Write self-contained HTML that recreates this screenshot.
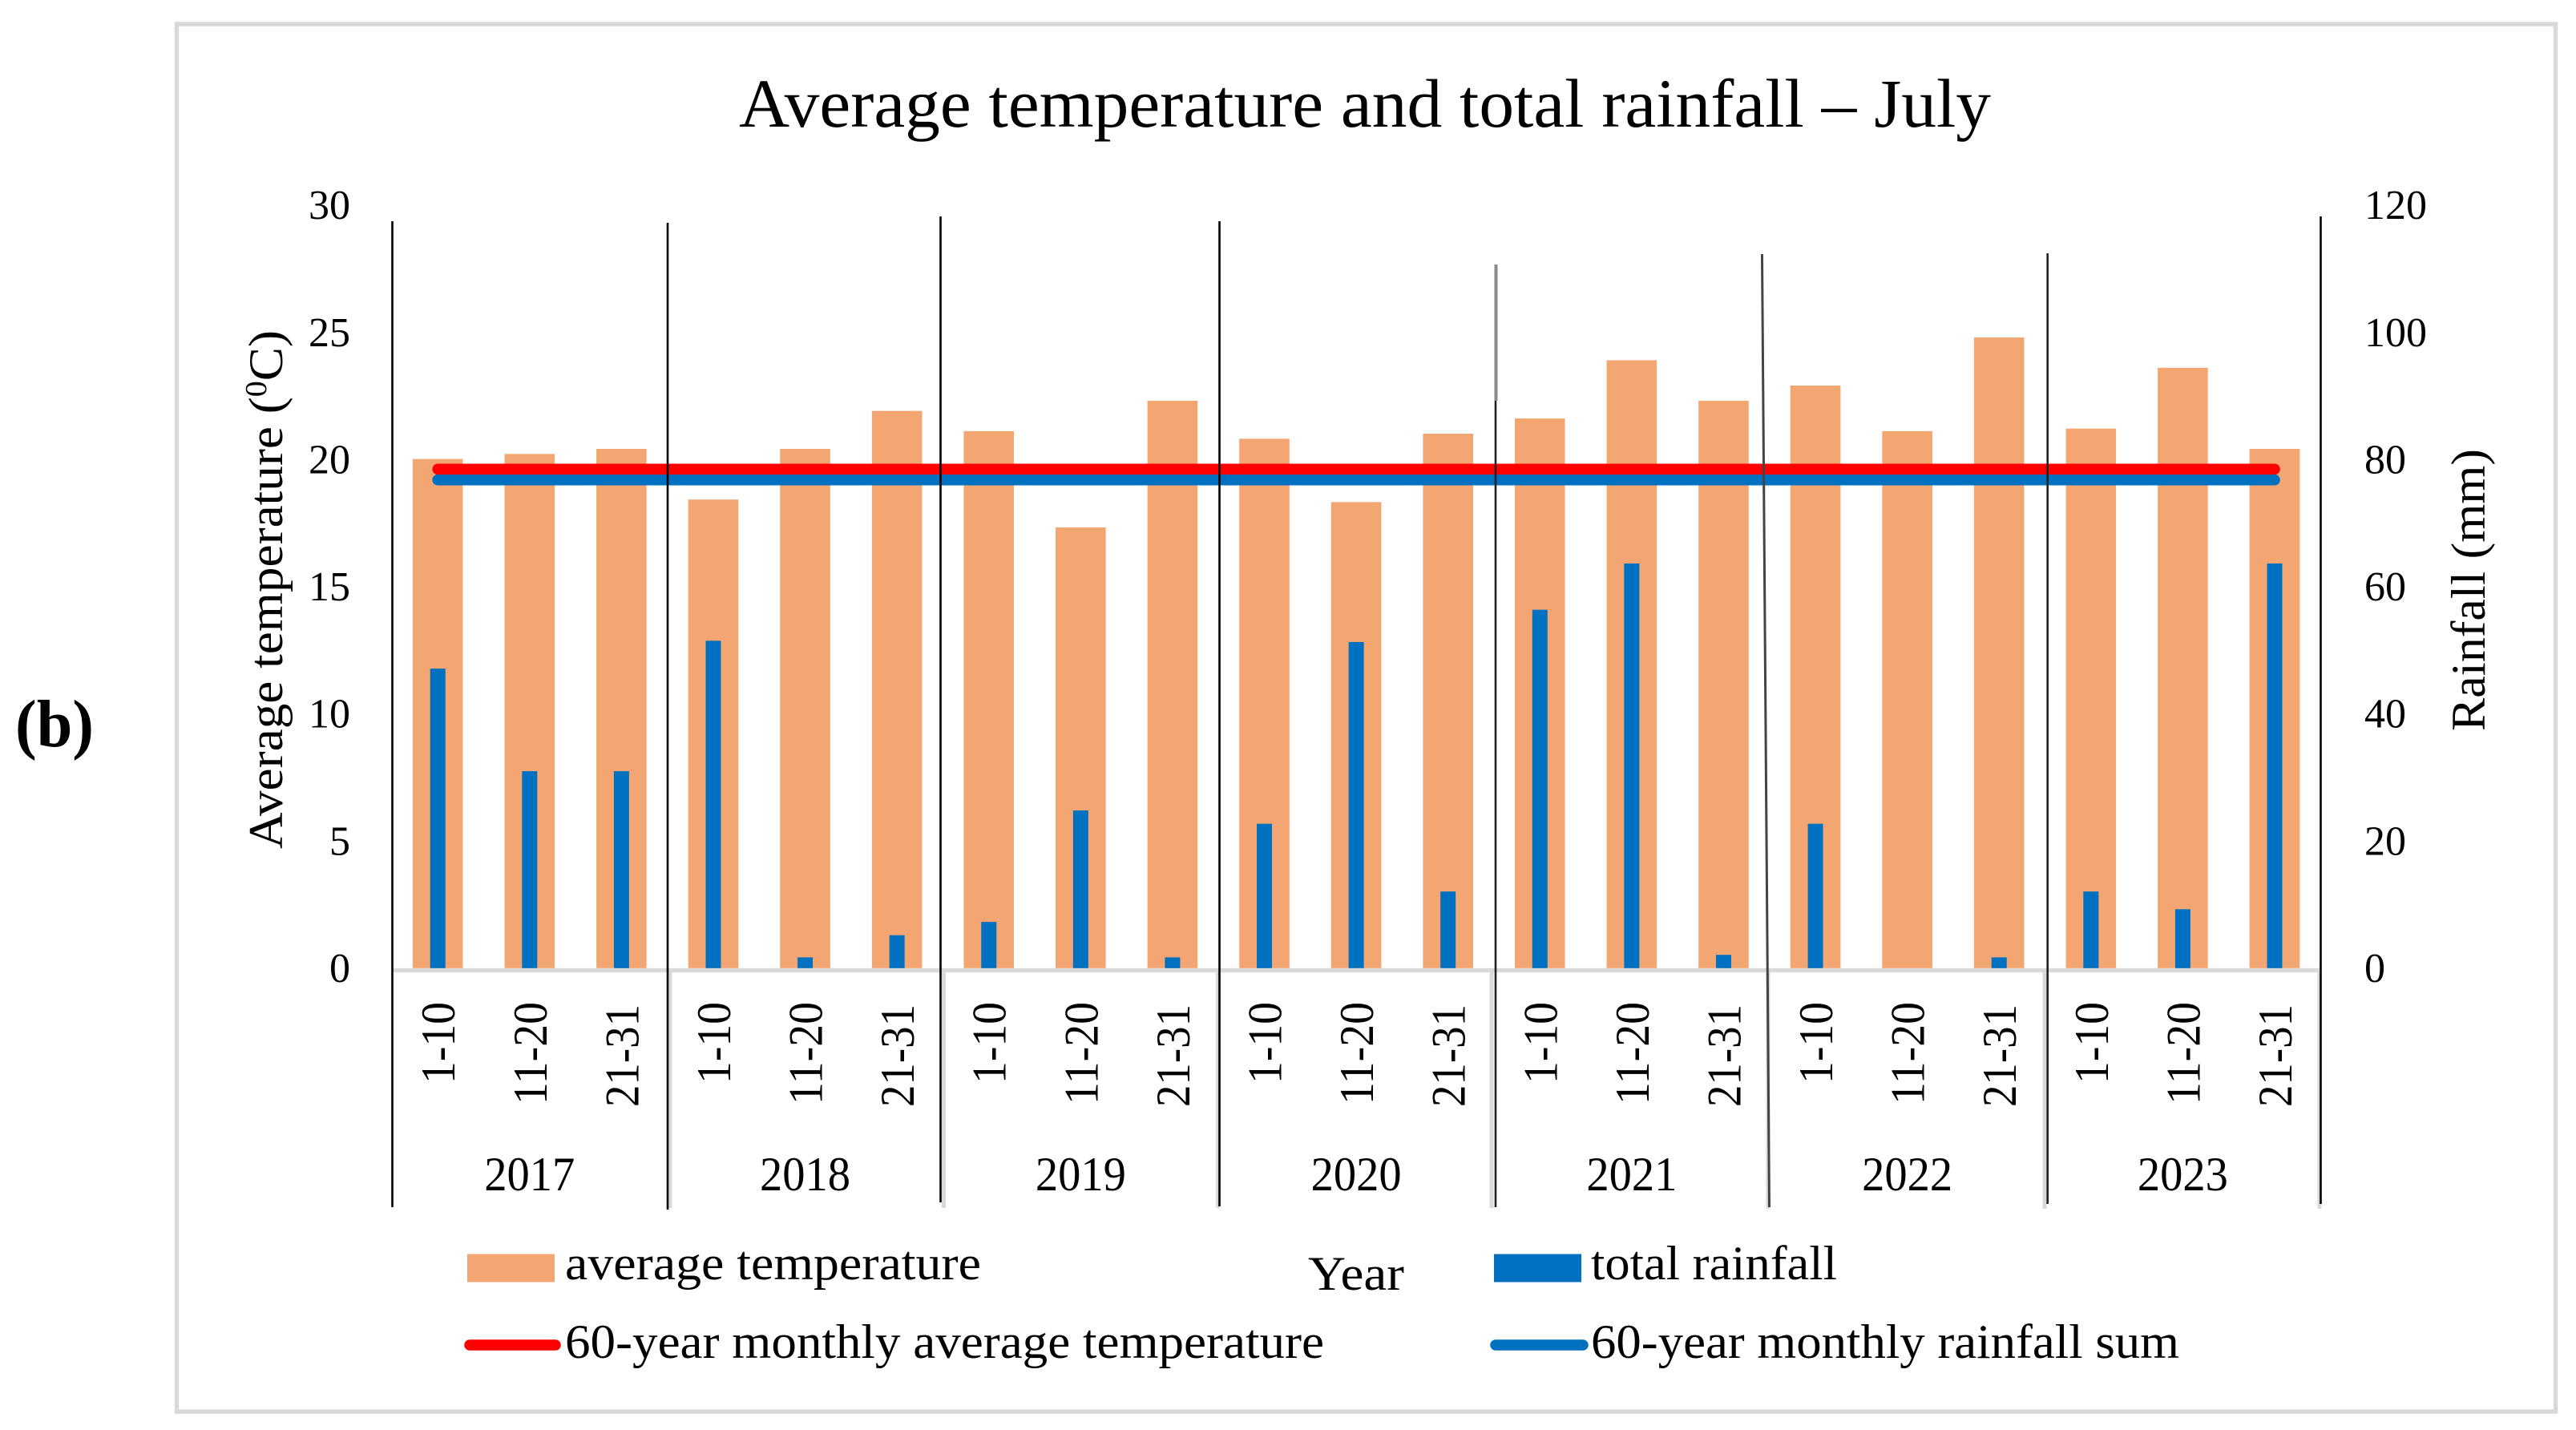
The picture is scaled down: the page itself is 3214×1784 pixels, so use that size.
<!DOCTYPE html>
<html>
<head>
<meta charset="utf-8">
<title>Average temperature and total rainfall - July</title>
<style>
html,body{margin:0;padding:0;background:#fff;}
svg{display:block;}
text{font-family:"Liberation Serif",serif;fill:#000;}
</style>
</head>
<body>
<svg id="chart" xmlns="http://www.w3.org/2000/svg" width="3214" height="1784" viewBox="0 0 3214 1784">
  <rect x="0" y="0" width="3214" height="1784" fill="#ffffff"/>
  <rect x="220.5" y="30" width="2968" height="1731" fill="none" stroke="#d9d9d9" stroke-width="5.5"/>
  <text x="19" y="931" font-size="84" font-weight="bold" textLength="98" lengthAdjust="spacingAndGlyphs">(b)</text>
  <text x="922" y="158" font-size="86" textLength="1562" lengthAdjust="spacingAndGlyphs">Average temperature and total rainfall – July</text>
  <text transform="translate(352 1059) rotate(-90)" x="0" y="0" font-size="60" textLength="647" lengthAdjust="spacingAndGlyphs">Average temperature (<tspan dy="-20" font-size="38">0</tspan><tspan dy="20">C)</tspan></text>
  <text transform="translate(3100 912) rotate(-90)" x="0" y="0" font-size="60" textLength="352" lengthAdjust="spacingAndGlyphs">Rainfall (mm)</text>
  <g id="gray-ticks" stroke="#d9d9d9" stroke-width="5">
    <line x1="836" y1="1213" x2="836" y2="1507"/>
    <line x1="1177.5" y1="1213" x2="1177.5" y2="1507"/>
    <line x1="1519.5" y1="1213" x2="1519.5" y2="1507"/>
    <line x1="1861" y1="1213" x2="1861" y2="1507"/>
    <line x1="2206" y1="1213" x2="2206" y2="1508"/>
    <line x1="2551" y1="1213" x2="2551" y2="1508"/>
    <line x1="2894" y1="1213" x2="2894" y2="1508"/>
  </g>
  <rect x="489" y="1207.8" width="2405" height="5.4" fill="#d9d9d9"/>
  <g id="temp-bars"></g>
  <g id="rain-bars"></g>
  <g id="lines"></g>
  <g fill="none" stroke="#000" stroke-width="2.6">
    <line x1="489.5" y1="276" x2="489.5" y2="1506"/>
    <line x1="833" y1="278" x2="833" y2="1509"/>
    <line x1="1173.5" y1="270" x2="1173.5" y2="1500"/>
    <line x1="1521.5" y1="276" x2="1521.5" y2="1505"/>
    <line stroke="#8a8a8a" stroke-width="4" x1="1866.5" y1="330" x2="1866.5" y2="500"/>
    <line stroke="#222" x1="1866" y1="500" x2="1866" y2="1506"/>
    <line stroke="#444" stroke-width="3" x1="2198.5" y1="317" x2="2207.5" y2="1506"/>
    <line stroke="#222" x1="2554.7" y1="316" x2="2554.7" y2="1502"/>
    <line x1="2895.5" y1="270" x2="2895.5" y2="1502"/>
  </g>
  <g id="left-ticks"></g>
  <g id="right-ticks"></g>
  <g id="period-labels"></g>
  <g id="year-labels"></g>
  <text x="1632" y="1609" font-size="60" textLength="120" lengthAdjust="spacingAndGlyphs">Year</text>
  <g>
    <rect x="583" y="1564.5" width="109" height="35" fill="#f4a672"/>
    <text x="705" y="1596" font-size="60" textLength="519" lengthAdjust="spacingAndGlyphs">average temperature</text>
    <rect x="1864" y="1564.5" width="109" height="35" fill="#0070c0"/>
    <text x="1985" y="1596" font-size="60" textLength="307" lengthAdjust="spacingAndGlyphs">total rainfall</text>
    <line x1="586" y1="1678" x2="693" y2="1678" stroke="#ff0000" stroke-width="13.5" stroke-linecap="round"/>
    <text x="705" y="1694" font-size="60" textLength="947" lengthAdjust="spacingAndGlyphs">60-year monthly average temperature</text>
    <line x1="1866" y1="1678" x2="1975" y2="1678" stroke="#0070c0" stroke-width="13.5" stroke-linecap="round"/>
    <text x="1985" y="1694" font-size="60" textLength="734" lengthAdjust="spacingAndGlyphs">60-year monthly rainfall sum</text>
  </g>
</svg>
<script>
const years = ["2017","2018","2019","2020","2021","2022","2023"];
const periods = ["1-10","11-20","21-31"];
const avgTemperature = [20.1,20.3,20.5, 18.5,20.5,22.0, 21.2,17.4,22.4, 20.9,18.4,21.1, 21.7,24.0,22.4, 23.0,21.2,24.9, 21.3,23.7,20.5];
const totalRainfall = [47.3,31.1,31.1, 51.7,1.7,5.2, 7.3,24.9,1.7, 22.8,51.5,12.1, 56.6,63.9,2.1, 22.8,0,1.7, 12.1,9.3,63.9];
const normalTemperature = [19.7,19.7,19.7,19.7,19.7,19.7,19.7,19.7,19.7,19.7,19.7,19.7,19.7,19.7,19.7,19.7,19.7,19.7,19.7,19.7,19.7];
const normalRainfall = [77.1,77.1,77.1,77.1,77.1,77.1,77.1,77.1,77.1,77.1,77.1,77.1,77.1,77.1,77.1,77.1,77.1,77.1,77.1,77.1,77.1];
const leftTickLabels = [0,5,10,15,20,25,30];
const rightTickLabels = [0,20,40,60,80,100,120];

const NS = "http://www.w3.org/2000/svg";
const baseY = 1207.8;
function xCenter(i){ return 546.2 + i * 114.59; }
function yTemp(v){ return baseY - v * 31.6; }
function yRain(v){ return baseY - v * 7.9; }
function tickBaselineLeft(v){ return 1225 - v * 31.73; }
function tickBaselineRight(v){ return 1225 - v * 7.9325; }
function make(tag, attrs, parentId){
  const el = document.createElementNS(NS, tag);
  for (const k in attrs) el.setAttribute(k, attrs[k]);
  document.getElementById(parentId).appendChild(el);
  return el;
}

avgTemperature.forEach(function(v, i){
  const el = make("rect", {x: xCenter(i) - 31.3, y: yTemp(v), width: 62.6, height: baseY - yTemp(v), fill: "#f4a672"}, "temp-bars");
  
  
});
totalRainfall.forEach(function(v, i){
  const el = make("rect", {x: xCenter(i) - 9.5, y: yRain(v), width: 19, height: baseY - yRain(v), fill: "#0070c0"}, "rain-bars");
  
  
});

const rainPts = normalRainfall.map(function(v, i){ return xCenter(i) + "," + yRain(v); }).join(" ");
const tempPts = normalTemperature.map(function(v, i){ return xCenter(i) + "," + yTemp(v); }).join(" ");
const rainLine = make("polyline", {points: rainPts, fill: "none", stroke: "#0070c0", "stroke-width": 13.6, "stroke-linecap": "round", "stroke-linejoin": "round"}, "lines");


const tempLine = make("polyline", {points: tempPts, fill: "none", stroke: "#ff0000", "stroke-width": 13.6, "stroke-linecap": "round", "stroke-linejoin": "round"}, "lines");



leftTickLabels.forEach(function(v){
  const el = make("text", {x: 437, y: tickBaselineLeft(v), "font-size": 52, "text-anchor": "end"}, "left-ticks");
  el.textContent = String(v);
  
  
});
rightTickLabels.forEach(function(v){
  const el = make("text", {x: 2950, y: tickBaselineRight(v), "font-size": 52}, "right-ticks");
  el.textContent = String(v);
  
  
});
avgTemperature.forEach(function(v, i){
  const label = periods[i % 3];
  const bx = xCenter(i) + 21;
  const len = label.length === 4 ? 102 : 128;
  const top = i % 3 === 2 ? 1253 : 1250;
  const el = make("text", {transform: "translate(" + bx + " " + top + ") rotate(-90)", x: 0, y: 0, "font-size": 60, "text-anchor": "end", textLength: len, lengthAdjust: "spacingAndGlyphs"}, "period-labels");
  el.textContent = label;
  
  
});
years.forEach(function(y, k){
  const el = make("text", {x: xCenter(k * 3 + 1), y: 1485, "font-size": 60, "text-anchor": "middle", textLength: 113, lengthAdjust: "spacingAndGlyphs"}, "year-labels");
  el.textContent = y;
  
  
});
</script>
</body>
</html>
